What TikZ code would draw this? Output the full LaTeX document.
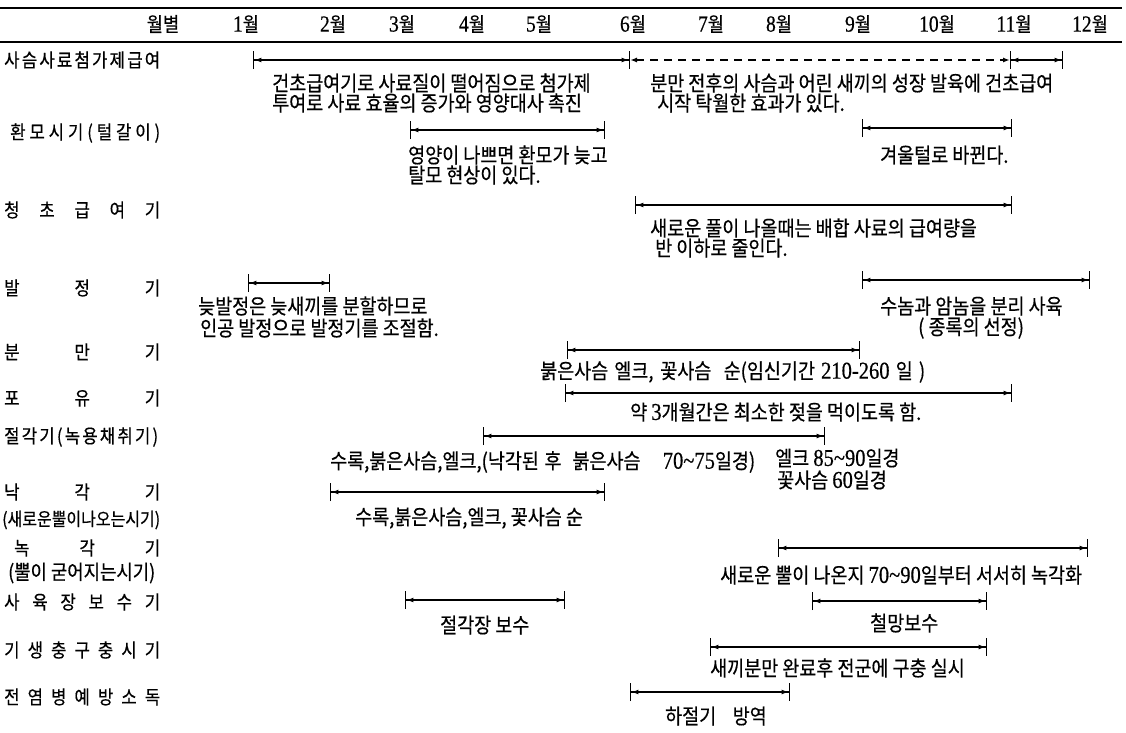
\documentclass[tikz,border=0pt]{standalone}
\usepackage{fontspec}
\setmainfont{Noto Sans CJK KR}[FakeStretch=0.88,FakeBold=0.5]
\newfontfamily\nmf{Liberation Serif}[Scale=1.15,FakeStretch=0.85,FakeBold=0.5]
\usetikzlibrary{arrows.meta}
\newcommand\spread[2]{\makebox[#1pt][s]{#2}}
\newcommand\fw[2]{\makebox[#1pt][s]{#2}}
\newcommand\tl{\textasciitilde}
\tikzset{
  lbl/.style={anchor=west, inner sep=0pt, font=\fontsize{19}{21}\selectfont},
  txt/.style={anchor=west, inner sep=0pt, font=\fontsize{21}{23}\selectfont},
  hdr/.style={anchor=center, inner sep=0pt, font=\fontsize{20}{22}\selectfont},
  span/.style={line width=1.8pt,
    {Bar[width=18pt,line width=1.4pt]Latex[length=7pt,width=5pt]}-{Latex[length=7pt,width=5pt]Bar[width=18pt,line width=1.4pt]}},
  dspan/.style={line width=1.5pt, dash pattern=on 8pt off 6pt,
    {Latex[length=7pt,width=5pt]}-{Latex[length=7pt,width=5pt]}},
  toprule/.style={line width=2pt},
  midrule/.style={line width=1.4pt},
}
\begin{document}
\begin{tikzpicture}[x=1pt,y=-1pt]
\useasboundingbox (0,0) rectangle (1126,732);
% rules
\coordinate (tl) at (0,8); \coordinate (tr) at (1122,8);
\coordinate (ml) at (0,42); \coordinate (mr) at (1122,42);
\draw[toprule] (tl) -- (tr);
\draw[midrule] (ml) -- (mr);
% header
\node[hdr] (h0) at (163,24) {월별};
\node[hdr] (h1) at (246,24) {{\nmf 1}월};
\node[hdr] (h2) at (333,24) {{\nmf 2}월};
\node[hdr] (h3) at (402,24) {{\nmf 3}월};
\node[hdr] (h4) at (472,24) {{\nmf 4}월};
\node[hdr] (h5) at (539,24) {{\nmf 5}월};
\node[hdr] (h6) at (633,24) {{\nmf 6}월};
\node[hdr] (h7) at (711,24) {{\nmf 7}월};
\node[hdr] (h8) at (779,24) {{\nmf 8}월};
\node[hdr] (h9) at (858,24) {{\nmf 9}월};
\node[hdr] (h10) at (937,24) {{\nmf 10}월};
\node[hdr] (h11) at (1014,24) {{\nmf 11}월};
\node[hdr] (h12) at (1090,24) {{\nmf 12}월};
% left labels
\node[lbl] (L1) at (4,60) {\spread{156}{사\hfill 슴\hfill 사\hfill 료\hfill 첨\hfill 가\hfill 제\hfill 급\hfill 여}};
\node[lbl] (L2) at (10,133) {\spread{150}{환\hfill 모\hfill 시\hfill 기\hfill (\hfill 털\hfill 갈\hfill 이\hfill )}};
\node[lbl] (L3) at (4,210) {\spread{156}{청\hfill 초\hfill 급\hfill 여\hfill 기}};
\node[lbl] (L4) at (4,288) {\spread{156}{발\hfill 정\hfill 기}};
\node[lbl] (L5) at (4,352) {\spread{156}{분\hfill 만\hfill 기}};
\node[lbl] (L6) at (4,398) {\spread{156}{포\hfill 유\hfill 기}};
\node[lbl] (L7) at (4,437) {\spread{154}{절\hfill 각\hfill 기\hfill (\hfill 녹\hfill 용\hfill 채\hfill 취\hfill 기\hfill )}};
\node[lbl] (L8) at (4,492) {\spread{156}{낙\hfill 각\hfill 기}};
\node[lbl] (L8b) at (2,520) {\resizebox{158pt}{!}{(새로운뿔이나오는시기)}};
\node[lbl] (L9) at (14,548) {\spread{146}{녹\hfill 각\hfill 기}};
\node[lbl] (L9b) at (8,573) {\resizebox{147pt}{!}{(뿔이 굳어지는시기)}};
\node[lbl] (L10) at (4,602) {\spread{156}{사\hfill 육\hfill 장\hfill 보\hfill 수\hfill 기}};
\node[lbl] (L11) at (4,650) {\spread{156}{기\hfill 생\hfill 충\hfill 구\hfill 충\hfill 시\hfill 기}};
\node[lbl] (L12) at (4,697) {\spread{156}{전\hfill 염\hfill 병\hfill 예\hfill 방\hfill 소\hfill 독}};
% bar end points
\coordinate (a1) at (253,60);  \coordinate (b1) at (630,60);
\coordinate (c1) at (1010,60); \coordinate (d1) at (1063,60);
\coordinate (a2) at (410,130); \coordinate (b2) at (605,130);
\coordinate (c2) at (862,128); \coordinate (d2) at (1012,128);
\coordinate (a3) at (635,205); \coordinate (b3) at (1012,205);
\coordinate (a4) at (248,283); \coordinate (b4) at (330,283);
\coordinate (c4) at (862,280); \coordinate (d4) at (1090,280);
\coordinate (a5) at (567,350); \coordinate (b5) at (860,350);
\coordinate (a6) at (565,393); \coordinate (b6) at (1012,393);
\coordinate (a7) at (483,436); \coordinate (b7) at (825,436);
\coordinate (a8) at (330,492); \coordinate (b8) at (605,492);
\coordinate (a9) at (778,548); \coordinate (b9) at (1088,548);
\coordinate (a10) at (405,600); \coordinate (b10) at (565,600);
\coordinate (c10) at (812,601); \coordinate (d10) at (987,601);
\coordinate (a11) at (710,647); \coordinate (b11) at (987,647);
\coordinate (a12) at (630,692); \coordinate (b12) at (790,692);
% bars
\draw[span] (a1) -- (b1);
\draw[dspan] (b1) -- (c1);
\draw[span] (c1) -- (d1);
\draw[span] (a2) -- (b2);
\draw[span] (c2) -- (d2);
\draw[span] (a3) -- (b3);
\draw[span] (a4) -- (b4);
\draw[span] (c4) -- (d4);
\draw[span,line width=2.2pt] (a5) -- (b5);
\draw[span] (a6) -- (b6);
\draw[span] (a7) -- (b7);
\draw[span] (a8) -- (b8);
\draw[span] (a9) -- (b9);
\draw[span] (a10) -- (b10);
\draw[span] (c10) -- (d10);
\draw[span] (a11) -- (b11);
\draw[span] (a12) -- (b12);
% texts
\node[txt] (t1a) at (272,83) {건초급여기로 사료질이 떨어짐으로 첨가제};
\node[txt] (t1b) at (272,103) {투여로 사료 효율의 증가와 영양대사 촉진};
\node[txt] (t1c) at (650,83) {분만 전후의 사슴과 어린 새끼의 성장 발육에 건초급여};
\node[txt] (t1d) at (657,103) {시작 탁월한 효과가 있다.};
\node[txt] (t2a) at (408,155) {영양이 나쁘면 환모가 늦고};
\node[txt] (t2b) at (408,175) {탈모 현상이 있다.};
\node[txt] (t2c) at (880,155) {겨울털로 바뀐다.};
\node[txt] (t3a) at (650,228) {새로운 풀이 나올때는 배합 사료의 급여량을};
\node[txt] (t3b) at (655,248) {반 이하로 줄인다.};
\node[txt] (t4a) at (198,306) {늦발정은 늦새끼를 분할하므로};
\node[txt] (t4b) at (200,328) {인공 발정으로 발정기를 조절함.};
\node[txt] (t4c) at (880,306) {수놈과 암놈을 분리 사육};
\node[txt] (t4d) at (918,328) {( 종록의 선정)};
\node[txt] (t5) at (540,372) {\fw{385}{붉은사슴 엘크, 꽃사슴\ \ 순(임신기간 {\nmf 210-260} 일 )}};
\node[txt] (t6) at (630,412) {약 {\nmf 3}개월간은 최소한 젖을 먹이도록 함.};
\node[txt] (t7a) at (330,462) {\fw{425}{수록,붉은사슴,엘크,(낙각된 후\ \ 붉은사슴\ \ \ \ {\nmf 70\tl75}일경)}};
\node[txt] (t7b) at (775,458) {엘크 {\nmf 85\tl90}일경};
\node[txt] (t7c) at (777,480) {꽃사슴 {\nmf 60}일경};
\node[txt] (t8) at (355,518) {수록,붉은사슴,엘크, 꽃사슴 순};
\node[txt] (t9) at (720,575) {새로운 뿔이 나온지 {\nmf 70\tl90}일부터 서서히 녹각화};
\node[txt] (t10a) at (440,625) {절각장 보수};
\node[txt] (t10b) at (870,623) {철망보수};
\node[txt] (t11) at (710,668) {새끼분만 완료후 전군에 구충 실시};
\node[txt] (t12) at (665,716) {하절기\ \ \ \ 방역};
\end{tikzpicture}
\end{document}
